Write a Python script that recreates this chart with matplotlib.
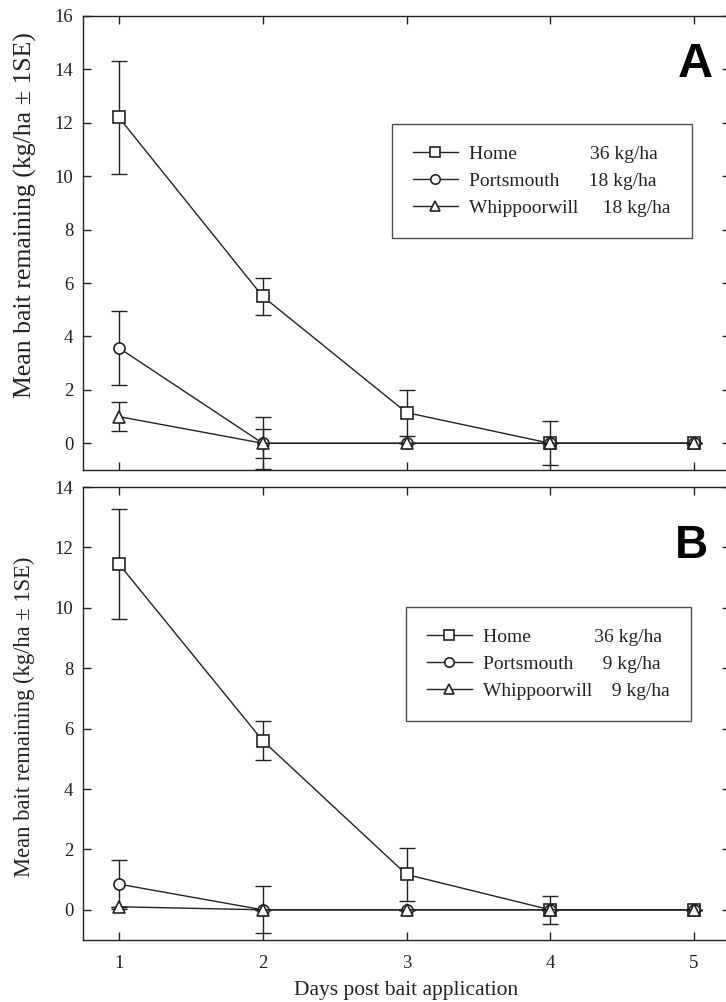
import matplotlib
matplotlib.use("Agg")
import matplotlib.pyplot as plt

plt.rcParams['font.family'] = ['Liberation Serif', 'DejaVu Serif']

days = [1, 2, 3, 4, 5]

# Panel A
a_home = [12.2, 5.5, 1.15, 0.0, 0.0]
a_home_se = [2.1, 0.7, 0.86, 0.82, 0.0]
a_ports = [3.57, 0.0, 0.0, 0.0, 0.0]
a_ports_se = [1.38, 0.97, 0.0, 0.0, 0.0]
a_whip = [1.0, 0.0, 0.0, 0.0, 0.0]
a_whip_se = [0.55, 0.55, 0.0, 0.0, 0.0]
a_labels = ["Home               36 kg/ha", "Portsmouth      18 kg/ha", "Whippoorwill     18 kg/ha"]

# Panel B
b_home = [11.45, 5.6, 1.17, 0.0, 0.0]
b_home_se = [1.83, 0.65, 0.87, 0.46, 0.0]
b_ports = [0.85, 0.0, 0.0, 0.0, 0.0]
b_ports_se = [0.81, 0.78, 0.0, 0.0, 0.0]
b_whip = [0.1, 0.0, 0.0, 0.0, 0.0]
b_whip_se = [0.0, 0.0, 0.0, 0.0, 0.0]
b_labels = ["Home             36 kg/ha", "Portsmouth      9 kg/ha", "Whippoorwill    9 kg/ha"]

a_yticks = [0, 2, 4, 6, 8, 10, 12, 14, 16]
b_yticks = [0, 2, 4, 6, 8, 10, 12, 14]
xticks = [1, 2, 3, 4, 5]

ink = '#222222'
W, H = 726, 1002
fig = plt.figure(figsize=(W / 100, H / 100), dpi=100)

def pos(l, t, r, b):
    return [l / W, 1 - b / H, (r - l) / W, (b - t) / H]

axA = fig.add_axes(pos(83, 16, 730, 470))
axB = fig.add_axes(pos(83, 487, 730, 940))

def draw(ax, series, labels, ylim, yticks, letter, lpos, leg_anchor, ylab_size, ylab_xy):
    markers = ['s', 'o', '^']
    handles = []
    for (vals, se), m, lab in zip(series, markers, labels):
        ax.errorbar(days, vals, yerr=se, fmt='none', ecolor=ink, elinewidth=1.0,
                    capsize=6, capthick=1.0, zorder=2)
        h, = ax.plot(days, vals, color=ink, lw=1.0, marker=m, ms=8 if m != '^' else 8.5,
                     mfc='white', mec=ink, mew=1.2, zorder=3, label=lab)
        handles.append(h)
    ax.set_xlim(0.75, 5.25)
    ax.set_ylim(*ylim)
    ax.set_yticks(yticks)
    ax.set_xticks(xticks)
    ax.tick_params(direction='in', top=True, right=True, length=6, width=1.0,
                   colors=ink, labelsize=13.5, pad=7)
    ax.tick_params(axis='x', pad=11)
    for s in ax.spines.values():
        s.set_color(ink)
        s.set_linewidth(1.0)
    ax.set_ylabel("Mean bait remaining (kg/ha \u00b1 1SE)", fontsize=ylab_size, color=ink)
    ax.yaxis.set_label_coords(*ylab_xy)
    ax.text(lpos[0], lpos[1], letter, transform=ax.transAxes, ha='right', va='center',
            fontsize=lpos[2], fontweight='bold', family='Liberation Sans', color='black')
    leg = ax.legend(handles=handles, loc='upper right', bbox_to_anchor=leg_anchor,
                    frameon=True, fancybox=False, edgecolor=ink, fontsize=14,
                    handlelength=2.3, handletextpad=0.6, borderpad=1.08,
                    labelspacing=0.48, markerscale=0.85, borderaxespad=0)
    leg.get_frame().set_linewidth(1.0)
    for t in leg.get_texts():
        t.set_color(ink)

draw(axA, [(a_home, a_home_se), (a_ports, a_ports_se), (a_whip, a_whip_se)], a_labels,
     (-1, 16), a_yticks, 'A', (0.974, 0.894, 35), (0.941, 0.762), 18.5, (-0.071, 0.562))
draw(axB, [(b_home, b_home_se), (b_ports, b_ports_se), (b_whip, b_whip_se)], b_labels,
     (-1, 14), b_yticks, 'B', (0.966, 0.870, 33), (0.940, 0.735), 16.3, (-0.074, 0.492))

axA.tick_params(labelbottom=False)
axB.set_xlabel("Days post bait application", fontsize=15.5, color=ink, labelpad=6)

fig.savefig("out.png", dpi=100)
